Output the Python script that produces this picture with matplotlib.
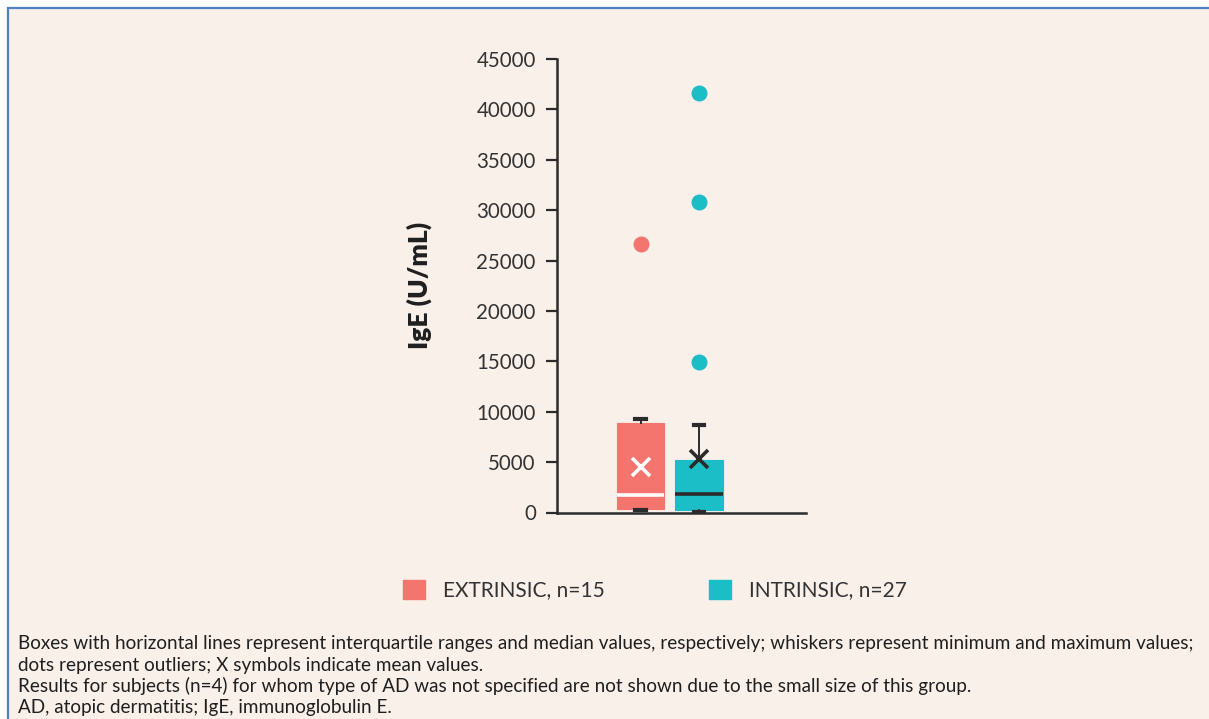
import matplotlib
matplotlib.use("Agg")
import matplotlib.pyplot as plt
from matplotlib.patches import Rectangle, Patch

# IgE distribution by AD type (U/mL)
groups = ["EXTRINSIC, n=15", "INTRINSIC, n=27"]
q1 = [320, 250]
median = [1740, 1870]
q3 = [8850, 5240]
whisker_low = [250, 80]
whisker_high = [9250, 8650]
means = [4540, 5280]
outliers = [[26600], [41600, 30800, 14900]]

yticks = [0, 5000, 10000, 15000, 20000, 25000, 30000, 35000, 40000, 45000]

red = "#f4756e"
teal = "#1bbdc6"
dark = "#2b2b2b"
bg = "#f9f0ea"
frame_blue = "#4f7fc6"

plt.rcParams["font.family"] = ["Lato", "DejaVu Sans"]

fig = plt.figure(figsize=(12.09, 7.19), dpi=100, facecolor="white")

# panel background with blue frame on top/left
W, H = 1209, 719
fig.patches.append(Rectangle((8 / W, -0.01), 1.05, 1 - 8 / H + 0.01,
                             transform=fig.transFigure, facecolor=bg,
                             edgecolor=frame_blue, linewidth=1.6, zorder=-5))

ax = fig.add_axes([556.7 / W, 1 - 512.5 / H, (806 - 556.7) / W, (512.5 - 59) / H])
ax.set_facecolor("none")
ax.set_zorder(2)

stats = []
for i in range(2):
    stats.append(dict(med=median[i], q1=q1[i], q3=q3[i],
                      whislo=whisker_low[i], whishi=whisker_high[i],
                      mean=means[i], fliers=outliers[i], label=groups[i]))

colors = [red, teal]
median_colors = ["white", dark]
mean_colors = ["white", dark]
positions = [1, 2]

for i in range(2):
    ax.bxp([stats[i]], positions=[positions[i]], widths=0.815,
           patch_artist=True, showmeans=True, showfliers=True,
           boxprops=dict(facecolor=colors[i], edgecolor=colors[i], linewidth=0.8),
           medianprops=dict(color=median_colors[i], linewidth=2.6),
           whiskerprops=dict(color=dark, linewidth=1.4),
           capprops=dict(color=dark, linewidth=3),
           capwidths=0.18,
           meanprops=dict(marker="x", markersize=13, markeredgewidth=2.6,
                          markeredgecolor=mean_colors[i], markerfacecolor=mean_colors[i]),
           flierprops=dict(marker="o", markersize=10.5, markerfacecolor=colors[i],
                           markeredgecolor=colors[i]),
           manage_ticks=False)

for ln in ax.lines:
    ln.set_zorder(3)

ax.set_xlim(-0.44, 3.835)
ax.set_ylim(0, 45000)
ax.set_yticks(yticks)
ax.set_yticklabels([str(v) for v in yticks], fontsize=14.8, color="#333333")
ax.set_xticks([])
ax.tick_params(axis="y", length=8, width=1.6, color=dark, pad=7)
for side in ["top", "right"]:
    ax.spines[side].set_visible(False)
for side in ["left", "bottom"]:
    ax.spines[side].set_linewidth(1.8)
    ax.spines[side].set_color(dark)
ax.set_ylabel("IgE (U/mL)", fontsize=19, fontweight="heavy", color="#1f1f1f", labelpad=32)

handles = [Patch(facecolor=c, edgecolor=c) for c in colors]
fig.legend(handles, groups, loc="center", bbox_to_anchor=(655 / W, 1 - 590 / H),
           ncol=2, frameon=False, fontsize=15, handlelength=1.06, handleheight=1.06,
           handletextpad=0.87, columnspacing=5.0, labelcolor="#333333")

notes = [
    "Boxes with horizontal lines represent interquartile ranges and median values, respectively; whiskers represent minimum and maximum values;",
    "dots represent outliers; X symbols indicate mean values.",
    "Results for subjects (n=4) for whom type of AD was not specified are not shown due to the small size of this group.",
    "AD, atopic dermatitis; IgE, immunoglobulin E.",
]
for line, yp in zip(notes, [644, 665, 686, 707]):
    fig.text(18 / W, 1 - yp / H, line, fontsize=13.6, color="#1f1f1f",
             ha="left", va="center")

fig.savefig("out.png", dpi=100, facecolor=fig.get_facecolor())
